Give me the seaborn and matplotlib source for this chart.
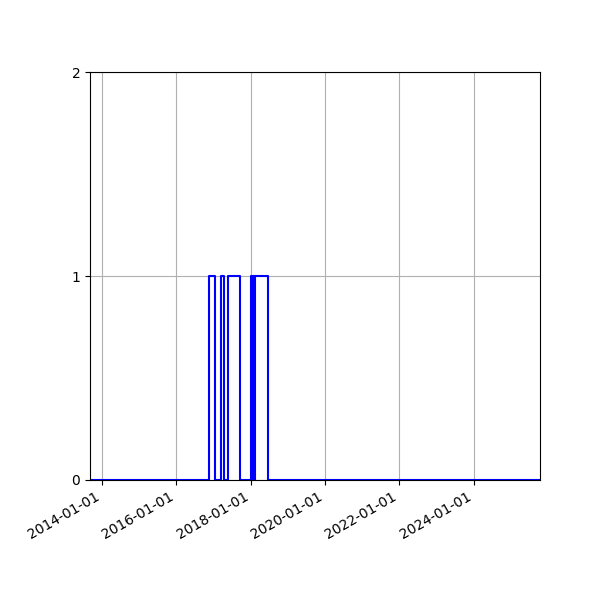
import matplotlib
matplotlib.use("Agg")
import matplotlib.pyplot as plt
import matplotlib.dates as mdates
import seaborn as sns
import pandas as pd

# change points of the status series (value holds until next date)
dates = ["2013-09-07", "2016-11-18", "2017-01-14", "2017-03-16", "2017-04-18",
         "2017-05-22", "2017-09-20", "2018-01-03", "2018-01-16", "2018-01-28",
         "2018-01-31", "2018-02-16", "2018-06-20", "2025-10-15"]
values = [0, 1, 0, 1, 0, 1, 0, 1, 0, 1, 0, 1, 0, 0]

df = pd.DataFrame({"date": pd.to_datetime(dates), "value": values})

fig, ax = plt.subplots(figsize=(6, 6), dpi=100)
sns.lineplot(data=df, x="date", y="value", color="blue", drawstyle="steps-post",
             linewidth=1.5, ax=ax)

ax.set_xlim(df["date"].iloc[0], df["date"].iloc[-1])
ax.set_ylim(0, 2)
ax.set_yticks([0, 1, 2])
ax.xaxis.set_major_locator(mdates.YearLocator(2))
ax.xaxis.set_major_formatter(mdates.DateFormatter("%Y-%m-%d"))
ax.set_xlabel("")
ax.set_ylabel("")
ax.grid(True)
fig.autofmt_xdate()
fig.subplots_adjust(left=0.15, right=0.9, top=0.88, bottom=0.2)
fig.savefig("out.png")
